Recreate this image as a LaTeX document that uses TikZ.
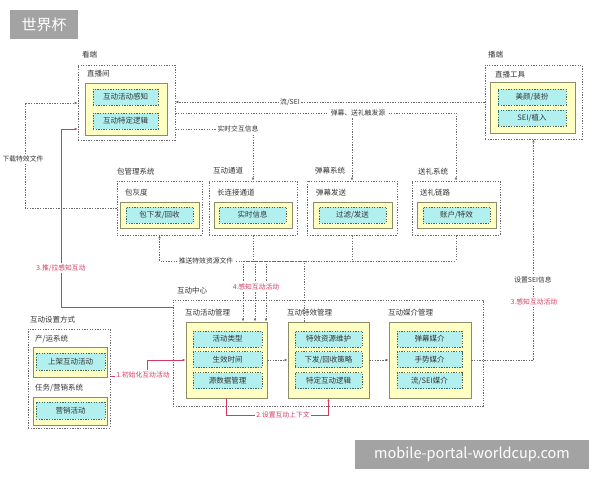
\documentclass[tikz,border=0pt]{standalone}
\usepackage{fontspec}
\setmainfont{Noto Sans CJK SC}
\usetikzlibrary{arrows.meta}
\definecolor{yf}{HTML}{FFFFC4}
\definecolor{yd}{HTML}{8C8C66}
\definecolor{cf}{HTML}{B2F0F0}
\definecolor{cd}{HTML}{3F6B5C}
\definecolor{od}{HTML}{6A6A6A}
\definecolor{tx}{HTML}{333333}
\definecolor{rd}{HTML}{D23A5E}
\definecolor{tg}{HTML}{A3A3A3}
\begin{document}
\begin{tikzpicture}[x=1pt,y=-1pt,
  outer/.style={draw=od, line width=0.6pt, dash pattern=on 1.3pt off 1.3pt, inner sep=0pt},
  ybox/.style={draw=yd, fill=yf, line width=0.8pt, inner sep=0pt},
  cbox/.style={draw=cd, fill=cf, line width=0.6pt, dash pattern=on 1.3pt off 1.3pt, minimum height=16pt, inner sep=0pt, font=\fontsize{7.5}{9}\selectfont, text=tx},
  lab/.style={font=\fontsize{7.5}{9}\selectfont, text=tx, anchor=west, inner sep=0pt},
  cl/.style={font=\fontsize{6.8}{8}\selectfont, text=tx, fill=white, inner sep=1.5pt},
  redlab/.style={cl, text=rd},
  dl/.style={draw=od, line width=0.6pt, dash pattern=on 1.3pt off 1.3pt},
  rline/.style={draw=rd, line width=0.6pt},
  tip/.style={-{Latex[length=3pt,width=2.6pt]}},
  banner/.style={fill=tg, text=white, inner sep=0pt},
]
\useasboundingbox (0,0) rectangle (600,480);

% title & watermark
\node[banner, font=\fontsize{15}{18}\selectfont, minimum width=68pt, minimum height=29pt] (title) at (44,24.5) {世界杯};
\node[banner, font=\fontsize{14.5}{17}\selectfont, minimum width=234pt, minimum height=29pt] (wm) at (472,454.5) {mobile-portal-worldcup.com};

% 看端 直播间
\node[lab] (kd) at (82,55) {看端};
\node[outer, minimum width=97pt, minimum height=75pt] (zbj) at (126.5,102.5) {};
\node[lab] (zbjl) at (87,74) {直播间};
\node[ybox, minimum width=82pt, minimum height=52pt] (zbjy) at (126,109) {};
\node[cbox, minimum width=65pt] (zbj1) at (125.5,97) {互动活动感知};
\node[cbox, minimum width=65pt] (zbj2) at (125.5,121) {互动特定逻辑};

% 播端 直播工具
\node[lab] (bd) at (488,55) {播端};
\node[outer, minimum width=97pt, minimum height=74pt] (zbgj) at (533.5,102) {};
\node[lab] (zbgjl) at (495,75) {直播工具};
\node[ybox, minimum width=85pt, minimum height=51pt] (zbgjy) at (532.5,107.5) {};
\node[cbox, minimum width=68pt] (zbgj1) at (532,97) {美颜/装扮};
\node[cbox, minimum width=68pt] (zbgj2) at (532,118) {SEI/植入};

% middle row
\node[lab] (bglt) at (117,172) {包管理系统};
\node[outer, minimum width=85pt, minimum height=54pt] (bgl) at (159.5,208) {};
\node[lab] (bglc) at (125,193) {包灰度};
\node[ybox, minimum width=79pt, minimum height=26pt] (bgly) at (159.5,215) {};
\node[cbox, minimum width=67pt] (bgl1) at (159.5,215) {包下发/回收};

\node[lab] (hdtdt) at (213,171) {互动通道};
\node[outer, minimum width=88pt, minimum height=54pt] (hdtd) at (253,208) {};
\node[lab] (hdtdc) at (217,193) {长连接通道};
\node[ybox, minimum width=78pt, minimum height=26pt] (hdtdy) at (253,215) {};
\node[cbox, minimum width=67pt] (hdtd1) at (252.5,215) {实时信息};

\node[lab] (dmxtt) at (315,171) {弹幕系统};
\node[outer, minimum width=90pt, minimum height=54pt] (dmxt) at (352,208) {};
\node[lab] (dmxtc) at (316,193) {弹幕发送};
\node[ybox, minimum width=79pt, minimum height=26pt] (dmxty) at (352.5,215) {};
\node[cbox, minimum width=67pt] (dmxt1) at (352.5,215) {过滤/发送};

\node[lab] (slxtt) at (418,172) {送礼系统};
\node[outer, minimum width=88pt, minimum height=54pt] (slxt) at (456,208) {};
\node[lab] (slxtc) at (420,193) {送礼链路};
\node[ybox, minimum width=79pt, minimum height=26pt] (slxty) at (456.5,215) {};
\node[cbox, minimum width=67pt] (slxt1) at (456.5,215) {账户/特效};

% 互动中心
\node[lab] (hdzxl) at (177,291) {互动中心};
\node[outer, minimum width=310pt, minimum height=106pt] (hdzx) at (328,353) {};
\node[lab] (hdgll) at (185,313) {互动活动管理};
\node[ybox, minimum width=81pt, minimum height=76pt] (hdgl) at (226.5,360) {};
\node[cbox, minimum width=69pt] (hdgl1) at (227.5,339) {活动类型};
\node[cbox, minimum width=69pt] (hdgl2) at (227.5,359.5) {生效时间};
\node[cbox, minimum width=69pt] (hdgl3) at (227.5,380.5) {源数据管理};

\node[lab] (txgll) at (287,313) {互动特效管理};
\node[ybox, minimum width=81pt, minimum height=76pt] (txgl) at (328.5,360) {};
\node[cbox, minimum width=67pt] (txgl1) at (328.5,339) {特效资源维护};
\node[cbox, minimum width=67pt] (txgl2) at (328.5,359.5) {下发/回收策略};
\node[cbox, minimum width=67pt] (txgl3) at (328.5,380.5) {特定互动逻辑};

\node[lab] (mjgll) at (388,313) {互动媒介管理};
\node[ybox, minimum width=82pt, minimum height=76pt] (mjgl) at (430,360) {};
\node[cbox, minimum width=65pt] (mjgl1) at (429.5,339) {弹幕媒介};
\node[cbox, minimum width=65pt] (mjgl2) at (429.5,359.5) {手势媒介};
\node[cbox, minimum width=65pt] (mjgl3) at (429.5,380.5) {流/SEI媒介};

% 互动设置方式
\node[lab] (szfsl) at (30,320) {互动设置方式};
\node[outer, minimum width=82pt, minimum height=99pt] (szfs) at (69,378.5) {};
\node[lab] (cyl) at (35,339) {产/运系统};
\node[ybox, minimum width=74pt, minimum height=30pt] (cyy) at (70,362) {};
\node[cbox, minimum width=69pt, minimum height=17pt] (cy1) at (70.5,361.5) {上架互动活动};
\node[lab] (rwl) at (35,388) {任务/营销系统};
\node[ybox, minimum width=74pt, minimum height=28pt] (rwy) at (70,411) {};
\node[cbox, minimum width=69pt, minimum height=17pt] (rw1) at (70.5,410.5) {营销活动};

% ---- connectors ----
\coordinate (xl) at (25,103);
\coordinate (r3) at (61,307);
\coordinate (r3b) at (61,129);
\coordinate (t1) at (352,113);
\coordinate (t2) at (456,113);
\coordinate (t3) at (253,129);
\coordinate (p1) at (304,261);
\coordinate (b1) at (243,261);
\coordinate (b2) at (255,261);
\coordinate (b3) at (266,261);
\coordinate (i1) at (147,376);

\draw[dl,tip] (zbgj.west) -- (zbj.east |- zbgj.west);
\draw[dl,tip] (zbj.east |- t1) -- (t2) -- (slxt.north);
\draw[dl,tip] (t1) -- (dmxt.north);
\draw[dl,tip] (zbj.east |- t3) -- (t3) -- (hdtd.north);
\draw[dl,tip] (bgl.west) -| (xl) -- (zbj.west |- xl);
\draw[rline,tip] (hdzx.west |- r3) -- (r3) -- (r3b) -- (zbj.west |- r3b);
\draw[dl,tip] (p1 |- txgl.north) -- (p1) -| (bgl.south);
\draw[dl] (hdtd.south) -- (hdtd.south |- b1);
\draw[dl] (dmxt.south) -- (dmxt.south |- b1);
\draw[dl] (slxt.south) -- (slxt.south |- b1);
\draw[dl] (b1) -- (slxt.south |- b1);
\draw[dl,tip] (b1) -- (b1 |- hdgl.north);
\draw[dl,tip] (b2) -- (b2 |- hdgl.north);
\draw[dl,tip] (b3) -- (b3 |- hdgl.north);
\draw[dl,tip] (hdgl.east) -- (txgl.west);
\draw[dl,tip] (txgl.east) -- (mjgl.west);
\draw[dl,tip] (mjgl.east) -| (zbgj.south);
\draw[rline,tip] (hdgl.south) -- ++(0,17) -| (txgl.south);
\draw[rline,tip] (szfs.east |- i1) -- (i1) |- (hdgl.west);

% connector labels
\node[cl] (l1) at (290,102) {流/SEI};
\node[cl] (l2) at (358,113) {弹幕、送礼触发源};
\node[cl] (l3) at (238,129) {实时交互信息};
\node[cl] (l4) at (23,159) {下载特效文件};
\node[redlab] (l5) at (61,268) {3.推/拉感知互动};
\node[cl] (l6) at (206,261) {推送特效资源文件};
\node[redlab] (l7) at (256,287) {4.感知互动活动};
\node[cl] (l8) at (533,280) {设置SEI信息};
\node[redlab] (l9) at (534,302) {3.感知互动活动};
\node[redlab] (l10) at (283,415) {2.设置互动上下文};
\node[redlab] (l11) at (143,375) {1.初始化互动活动};
\end{tikzpicture}
\end{document}
